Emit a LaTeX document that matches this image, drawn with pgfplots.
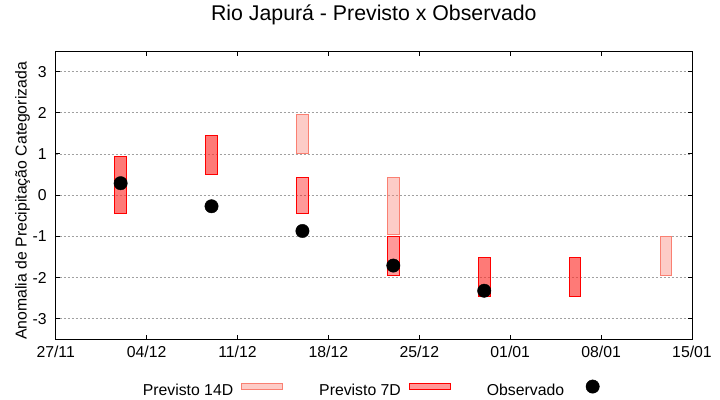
\documentclass[border=0pt]{standalone}
\usepackage{pgfplots}
\pgfplotsset{compat=1.18}
\usepackage{fontspec}
\setmainfont{Liberation Sans}

\definecolor{salmon}{HTML}{FA8072}
\definecolor{gridgray}{HTML}{A0A0A0}

\newcommand{\lblfont}{\fontsize{15.8bp}{18bp}\selectfont}

\pgfplotsset{
    boxlegend/.style={legend image code/.code={\draw[##1] (0bp,1.3bp) rectangle (41bp,7.3bp);}},
    dotlegend/.style={legend image code/.code={\path[draw=none, fill=none] (0bp,1.3bp) rectangle (41bp,7.3bp);
        \draw[mark repeat=2, mark phase=2, ##1]
        plot coordinates {(0bp,4bp) (20.5bp,4bp) (41bp,4bp)};}},
    p14/.style={draw=salmon, fill=salmon, fill opacity=0.4, line width=1bp},
    p7/.style={draw=red, fill=red, fill opacity=0.4, line width=1bp},
}

\begin{document}
\begin{tikzpicture}
\useasboundingbox (-55.7bp,-60.7bp) rectangle (664.3bp,339.3bp);
\begin{axis}[
    scale only axis,
    width=636.3bp, height=288.3bp,
    xmin=0, xmax=49,
    ymin=-3.5, ymax=3.5,
    xtick={0,7,...,49},
    xticklabels={27/11,04/12,11/12,18/12,25/12,01/01,08/01,15/01},
    ytick={-3,-2,-1,0,1,2,3},
    yticklabels={-3,-2,-1,0,1,2,3},
    ymajorgrids,
    grid style={gridgray, line width=0.8bp, dash pattern=on 2bp off 2bp},
    axis line style={line width=1bp},
    tick style={black, line width=1bp},
    major tick length=4.5bp,
    tick align=inside,
    tick label style={font=\lblfont},
    xticklabel style={yshift=-3bp},
    yticklabel style={xshift=-5.5bp},
    ylabel={Anomalia de Precipitação Categorizada},
    ylabel style={at={(axis description cs:-0.0456,0.48)}, anchor=base, font=\lblfont},
    title={Rio Japurá - Previsto x Observado},
    title style={at={(axis description cs:0.5,1)}, anchor=base, yshift=24.3bp,
                 font=\fontsize{21.3bp}{24bp}\selectfont},
    legend columns=3,
    legend plot pos=right,
    legend style={at={(axis description cs:0.5065,-0.14)}, anchor=north,
                  draw=none, fill=none, inner sep=0pt,
                  nodes={inner sep=0pt}, font=\lblfont,
                  /tikz/every odd column/.append style={column sep=8bp},
                  /tikz/every even column/.append style={column sep=36bp}},
]

% Previsto 14D
\addplot[p14, boxlegend]
    coordinates {(4.55,-0.44) (5.45,-0.44) (5.45,0.95) (4.55,0.95)} -- cycle;
\addlegendentry{Previsto 14D}
\addplot[p14, forget plot]
    coordinates {(11.55,0.51) (12.45,0.51) (12.45,1.44) (11.55,1.44)} -- cycle;
\addplot[p14, forget plot]
    coordinates {(18.55,1.00) (19.45,1.00) (19.45,1.95) (18.55,1.95)} -- cycle;
\addplot[p14, forget plot]
    coordinates {(25.55,-0.96) (26.45,-0.96) (26.45,0.44) (25.55,0.44)} -- cycle;
\addplot[p14, forget plot]
    coordinates {(32.55,-2.45) (33.45,-2.45) (33.45,-1.51) (32.55,-1.51)} -- cycle;
\addplot[p14, forget plot]
    coordinates {(39.55,-2.45) (40.45,-2.45) (40.45,-1.51) (39.55,-1.51)} -- cycle;
\addplot[p14, forget plot]
    coordinates {(46.55,-1.96) (47.45,-1.96) (47.45,-1.00) (46.55,-1.00)} -- cycle;

% Previsto 7D
\addplot[p7, boxlegend]
    coordinates {(4.55,-0.44) (5.45,-0.44) (5.45,0.95) (4.55,0.95)} -- cycle;
\addlegendentry{Previsto 7D}
\addplot[p7, forget plot]
    coordinates {(11.55,0.51) (12.45,0.51) (12.45,1.44) (11.55,1.44)} -- cycle;
\addplot[p7, forget plot]
    coordinates {(18.55,-0.44) (19.45,-0.44) (19.45,0.44) (18.55,0.44)} -- cycle;
\addplot[p7, forget plot]
    coordinates {(25.55,-1.95) (26.45,-1.95) (26.45,-1.00) (25.55,-1.00)} -- cycle;
\addplot[p7, forget plot]
    coordinates {(32.55,-2.45) (33.45,-2.45) (33.45,-1.51) (32.55,-1.51)} -- cycle;
\addplot[p7, forget plot]
    coordinates {(39.55,-2.45) (40.45,-2.45) (40.45,-1.51) (39.55,-1.51)} -- cycle;

% Observado
\addplot[only marks, mark=*, mark size=6.7bp, black, dotlegend]
    coordinates {(5,0.29) (12,-0.27) (19,-0.87) (26,-1.71) (33,-2.32)};
\addlegendentry{Observado}

\end{axis}
\end{tikzpicture}
\end{document}
